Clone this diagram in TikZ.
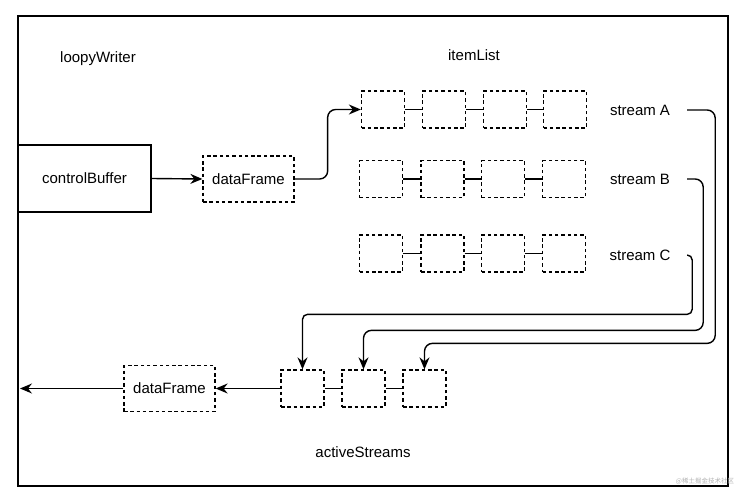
\documentclass[tikz,border=0pt]{standalone}
\usepackage{fontspec}
\setmainfont{Liberation Sans}
\newfontfamily\cjk{Noto Sans CJK SC}
\usetikzlibrary{arrows.meta,calc}
\begin{document}
\begin{tikzpicture}[x=1pt,y=-1pt,
  every node/.style={font=\fontsize{15}{18}\selectfont},
  lbl/.style={inner sep=0pt},
  cell/.style={draw,dashed,dash pattern=on 3.5pt off 2.8pt,line width=1.3pt,minimum width=43pt,minimum height=37pt,inner sep=0pt},
  frame/.style={draw,dashed,dash pattern=on 3.5pt off 2.8pt,line width=1.3pt,minimum width=91pt,minimum height=46pt,inner sep=0pt},
  link/.style={line width=1.3pt},
  tip/.style={-{Stealth[length=12pt,width=10pt,inset=4pt]}},
  arr/.style={line width=1.4pt,tip},
  feed/.style={line width=1.4pt,rounded corners=8pt,tip}]
\useasboundingbox (0,0) rectangle (739,495);
\draw[line width=1.4pt] (18,16) rectangle (728,486);
\node[lbl] (lw) at (98,59) {loopyWriter};
\node[lbl] (il) at (474,55) {itemList};
\node[lbl] (as) at (363,452) {activeStreams};
\node[draw,line width=1.3pt,minimum width=133pt,minimum height=67pt,inner sep=0pt] (cb) at (84.5,178.5) {controlBuffer};
\node[frame] (df1) at (248.5,179) {dataFrame};
\node[frame] (df2) at (169.5,388.5) {dataFrame};
% row A
\node[cell] (a1) at (383,109.5) {};
\node[cell] (a2) at (444,109.5) {};
\node[cell] (a3) at (505,109.5) {};
\node[cell] (a4) at (565,109.5) {};
% row B
\node[cell] (b1) at (381,179) {};
\node[cell] (b2) at (442.5,179) {};
\node[cell] (b3) at (503,179) {};
\node[cell] (b4) at (564,179) {};
% row C
\node[cell] (c1) at (381,253.5) {};
\node[cell] (c2) at (442.5,253.5) {};
\node[cell] (c3) at (503,253.5) {};
\node[cell] (c4) at (564,253.5) {};
% active streams
\node[cell] (s1) at (302.5,388.5) {};
\node[cell] (s2) at (363.5,388.5) {};
\node[cell] (s3) at (424.5,388.5) {};
% stream labels
\node[lbl,minimum width=94pt] (sA) at (640,110) {stream A};
\node[lbl,minimum width=94pt] (sB) at (640,179) {stream B};
\node[lbl,minimum width=94pt] (sC) at (640,255) {stream C};
% links
\foreach \r in {a,b,c}{
  \draw[link] (\r1.east) -- (\r2.west);
  \draw[link] (\r2.east) -- (\r3.west);
  \draw[link] (\r3.east) -- (\r4.west);
}
\draw[link] (s1.east) -- (s2.west);
\draw[link] (s2.east) -- (s3.west);
% arrows
\draw[arr] (cb.east) -- (df1.west);
\draw[feed] (df1.east) -- ++(33,0) |- (a1.west);
\draw[feed] (sA.east) -- ++(28,0) |- ([yshift=26pt]s3.north) -- (s3.north);
\draw[feed] (sB.east) -- ++(16,0) |- ([yshift=39pt]s2.north) -- (s2.north);
\draw[feed,rounded corners=5pt] (sC.east) -- ++(5,0) |- ([yshift=55pt]s1.north) -- (s1.north);
\draw[arr] (s1.west) -- (df2.east);
\coordinate (out) at (20,388.5);
\draw[arr] (df2.west) -- (out);
\node[lbl,font=\cjk\fontsize{6.5}{8}\selectfont,text=black!30] (wm) at (705,481) {@稀土掘金技术社区};
\end{tikzpicture}
\end{document}
